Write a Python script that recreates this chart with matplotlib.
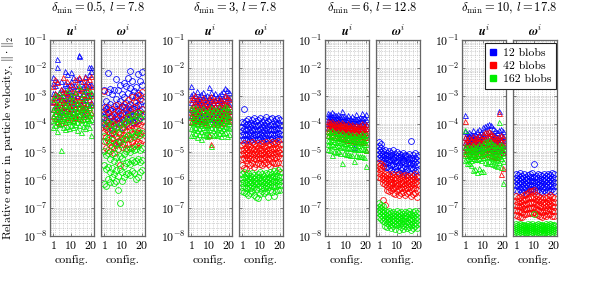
import numpy as np
import matplotlib
matplotlib.use('Agg')
import matplotlib.pyplot as plt
from matplotlib.lines import Line2D
from matplotlib.ticker import LogLocator, NullFormatter, FixedLocator

plt.rcParams['font.family'] = 'serif'
plt.rcParams['font.serif'] = ['cmr10', 'DejaVu Serif']
plt.rcParams['mathtext.fontset'] = 'cm'
plt.rcParams['axes.formatter.use_mathtext'] = True

# ── data: -100*log10(error), 20 configs x 5 particles ──
configs = np.arange(1, 21)
deltas = ['0.5', '3', '6', '10']
lengths = ['7.8', '7.8', '12.8', '17.8']
blob_labels = ['12 blobs', '42 blobs', '162 blobs']
colors = ['#0000ff', '#ff0000', '#00ee00']

# delta_min = 0.5
u_d05_12 = """232 255 290 318 345 262 288 305 331 360 168 195 246 297 338 285 301 322 349 371
248 276 309 334 352 270 296 312 340 365 212 254 287 320 350 221 262 290 315 342
256 281 308 337 359 213 247 279 303 331 232 266 295 322 348 261 284 310 336 372
239 271 298 325 355 152 158 235 288 330 246 272 301 329 346 263 289 314 338 364
227 256 283 311 341 248 279 300 327 358 195 220 262 296 333 198 210 257 291 320"""
u_d05_42 = """265 302 323 345 372 238 288 318 347 379 250 296 330 352 388 301 322 341 366 395
275 309 337 358 384 233 281 316 340 371 286 311 333 355 392 248 293 322 349 376
270 305 331 353 381 256 298 319 344 368 282 307 329 357 386 241 286 315 342 374
262 300 327 351 379 233 274 312 339 365 277 303 326 348 383 246 292 320 346 371
231 268 305 334 362 259 296 324 350 377 240 278 309 338 369 229 263 298 329 357"""
u_d05_162 = """312 348 369 386 412 296 339 362 381 405 325 351 374 392 425 288 336 358 379 401
318 354 377 398 492 301 343 366 384 410 327 356 372 389 418 279 331 360 382 406
309 346 368 391 414 295 337 363 385 403 316 352 371 388 409 284 334 357 380 399
322 349 373 394 421 265 328 355 377 402 306 344 365 387 428 291 338 362 383 407
314 347 370 392 415 275 330 356 378 398 299 341 364 386 411 287 333 359 381 438"""
w_d05_12 = """280 340 352 375 398 318 345 366 384 410 218 286 338 362 390 275 329 351 377 402
293 346 370 389 431 279 335 357 381 406 240 310 348 372 395 277 327 355 378 464
262 318 343 369 392 292 335 361 383 412 255 302 341 366 388 266 324 349 374 401
236 290 337 360 386 209 270 328 355 380 248 298 342 367 394 281 319 346 371 398
269 305 336 364 390 222 288 332 358 385 245 296 329 353 379 214 262 318 345 372"""
w_d05_42 = """281 365 402 430 462 338 389 418 447 485 357 398 425 456 493 372 401 433 465 497
346 391 421 449 480 365 402 437 468 502 331 382 414 443 475 352 395 428 459 491
368 405 436 466 548 341 387 419 450 482 328 378 411 441 473 360 397 426 455 487
315 372 408 438 470 345 390 422 452 484 302 364 403 434 466 338 383 416 447 479
320 371 407 439 472 297 356 398 431 463 309 362 401 433 468 287 348 389 425 458"""
w_d05_162 = """380 443 497 545 614 405 462 512 561 620 392 451 503 552 598 418 476 526 570 607
399 458 508 556 590 425 484 531 578 612 410 467 519 566 605 433 489 540 585 637
402 461 513 560 681 415 472 522 571 603 396 455 507 549 588 388 446 498 541 579
376 438 491 535 574 391 449 500 543 582 368 429 484 528 567 384 442 494 537 576
373 435 488 531 598 362 426 479 524 590 379 440 492 536 571 366 431 485 529 564"""

# delta_min = 3
u_d3_12 = """265 298 322 345 368 289 312 333 354 376 296 318 339 361 383 282 308 330 352 374
301 321 342 363 385 293 315 336 357 379 287 310 331 353 371 304 324 344 366 387
298 319 340 362 381 268 302 327 349 372 285 309 332 355 377 299 320 341 360 382
291 313 335 356 378 303 323 343 364 386 295 316 337 358 380 288 311 333 354 375
283 306 329 351 373 270 300 326 348 370 279 304 328 350 371 286 307 330 352 374"""
u_d3_42 = """312 338 357 376 392 305 331 352 371 389 296 329 350 369 386 318 342 360 379 396
309 335 354 373 391 321 344 362 381 398 302 330 351 370 388 315 339 358 377 394
324 346 364 383 400 308 334 353 372 438 300 327 349 368 472 316 340 359 378 395
311 336 355 374 393 322 345 363 382 399 306 332 352 371 389 314 338 357 376 392
320 343 361 380 397 298 326 348 367 386 303 330 350 369 387 310 335 354 373 390"""
u_d3_162 = """344 372 393 414 440 351 377 398 418 438 338 366 389 410 432 356 381 401 421 445
347 374 395 416 436 360 384 404 424 452 342 369 391 412 434 353 379 399 419 439
358 383 403 423 443 349 375 396 417 437 340 368 390 411 480 355 380 400 420 441
346 373 394 415 435 352 378 397 418 440 339 367 388 409 431 357 382 402 422 442
345 371 392 413 433 336 363 386 407 430 341 368 390 411 444 350 376 396 416 436"""
w_d3_12 = """392 410 425 441 458 348 398 418 437 455 389 405 422 439 457 381 401 419 436 452
395 412 428 444 461 386 404 421 438 454 378 399 417 434 451 391 408 424 440 456
384 402 420 437 453 380 400 418 435 450 393 411 427 443 459 387 405 422 439 455
376 397 415 433 449 390 407 423 440 457 383 402 419 436 452 379 399 417 434 451
388 406 423 441 460 382 401 418 435 450 377 398 416 433 448 385 403 420 437 454"""
w_d3_42 = """475 493 508 524 545 468 488 504 520 556 481 497 511 527 560 470 490 505 521 540
477 494 509 525 548 465 486 502 518 538 472 491 506 522 553 479 496 510 526 544
467 487 503 519 539 474 492 507 523 542 469 489 504 520 546 480 495 510 525 541
466 485 501 517 537 476 493 508 524 543 471 490 505 521 549 463 484 500 516 536
473 491 506 522 540 468 487 503 519 538 462 482 498 514 535 470 489 504 520 557"""
w_d3_162 = """578 595 610 625 640 572 590 606 621 643 583 598 612 627 648 576 593 608 623 652
585 600 614 629 645 574 591 607 622 638 581 597 611 626 655 588 602 616 631 662
577 594 609 624 666 573 590 605 620 650 579 596 610 625 641 586 601 615 630 646
575 592 607 622 639 580 596 611 626 660 571 589 604 619 637 577 593 608 623 644
569 587 603 618 658 574 591 606 621 640 566 584 600 616 635 570 588 603 618 636"""

# delta_min = 6
u_d6_12 = """362 372 383 395 410 365 375 386 398 414 358 370 382 394 408 366 377 388 400 416
368 379 390 403 420 363 374 386 399 417 370 381 392 405 423 355 372 387 401 419
373 383 394 407 425 375 385 396 409 428 369 382 395 410 430 377 388 399 412 432
372 384 397 411 431 380 391 403 418 482 365 381 398 414 434 378 390 402 416 436
374 387 400 415 433 362 380 397 413 435 376 389 401 417 438 364 382 399 414 437"""
u_d6_42 = """390 401 413 425 440 393 404 415 428 443 388 400 412 424 438 395 406 417 430 446
397 408 419 432 448 392 403 416 429 447 399 410 421 434 451 394 405 418 431 449
401 412 423 436 453 403 414 425 438 456 398 410 422 437 455 405 416 427 440 458
400 412 424 439 457 407 418 429 442 460 402 414 426 441 459 408 419 431 444 462
404 416 428 443 461 398 413 427 442 463 406 418 430 445 466 400 415 429 446 492"""
u_d6_162 = """425 441 456 472 490 428 444 459 475 494 422 438 454 470 512 430 446 461 477 497
433 448 463 479 500 427 443 458 476 498 435 450 465 481 503 429 445 460 478 541
437 452 467 483 505 438 453 468 485 508 432 448 464 482 506 440 455 470 487 510
436 451 466 484 509 442 457 472 489 532 434 450 466 486 511 444 459 474 491 514
439 454 469 488 513 431 449 465 487 515 441 456 472 490 518 435 452 470 492 550"""
w_d6_12 = """466 478 494 508 521 471 486 499 513 527 497 506 519 533 549 493 511 522 538 555
502 509 526 541 552 498 515 528 537 558 505 512 530 546 563 494 517 524 543 571
508 519 532 549 562 501 514 535 551 568 506 521 529 547 575 511 518 536 553 566
503 524 533 556 579 509 516 538 550 570 513 526 541 559 582 507 520 534 548 573
459 522 539 557 577 512 528 543 561 584 505 523 537 552 569 515 527 544 563 586"""
w_d6_42 = """538 549 561 574 588 542 556 565 579 592 551 584 596 609 672 579 590 603 614 688
582 593 607 621 635 577 598 610 624 641 585 595 606 619 637 580 592 611 627 645
588 600 613 626 649 583 597 609 622 640 578 594 616 631 652 590 602 614 629 646
586 599 612 625 643 581 596 617 633 655 589 604 615 628 648 584 601 610 624 642
592 605 618 632 658 587 599 613 627 650 579 596 611 630 647 591 603 616 635 661"""
w_d6_162 = """682 695 708 719 732 688 701 712 724 738 693 706 718 731 745 712 725 738 749 763
716 729 741 752 768 709 722 735 747 760 718 731 744 756 772 714 727 739 751 766
720 733 746 758 774 711 724 737 750 762 717 730 742 755 779 713 726 740 753 767
721 734 747 759 776 715 728 736 748 764 719 732 745 757 771 710 723 739 754 769
722 735 748 761 778 716 729 743 757 773 712 726 741 752 765 718 731 744 756 770"""

# delta_min = 10
u_d10_12 = """368 426 445 463 481 432 447 459 471 489 428 441 456 474 492 437 450 462 476 495
421 439 455 470 486 434 448 461 478 498 425 442 457 473 490 418 436 452 468 485
430 444 458 472 493 412 433 451 467 484 408 429 449 465 483 402 427 446 466 488
399 424 443 462 480 405 431 450 469 487 416 437 454 471 491 423 440 456 475 496
428 445 460 477 494 352 422 447 464 482 419 438 453 470 489 426 443 458 474 499"""
u_d10_42 = """388 448 466 483 502 452 468 480 494 511 447 463 477 491 508 455 470 484 498 516
444 460 475 490 506 450 466 481 496 513 446 462 478 493 510 441 458 473 488 505
449 464 479 495 512 436 455 471 487 503 430 452 469 486 504 428 449 467 484 507
425 446 464 482 501 433 451 470 489 509 439 457 474 492 514 445 461 476 494 517
451 467 482 497 519 362 443 465 485 506 440 459 475 493 578 448 465 480 499 558"""
u_d10_162 = """421 478 495 512 529 483 497 510 524 541 479 492 506 521 538 486 500 514 528 548
475 491 507 523 566 481 495 511 526 562 477 493 509 525 570 472 489 505 520 557
480 494 508 527 568 468 486 503 519 567 462 482 500 517 536 459 479 498 516 540
456 476 495 513 533 463 481 499 518 539 470 488 504 522 544 476 490 506 524 546
482 496 512 529 550 392 474 493 515 537 473 487 505 521 552 478 494 509 531 609"""
w_d10_12 = """578 592 605 619 634 583 596 610 623 640 576 590 603 616 631 586 598 612 626 643
580 594 607 621 637 588 601 614 628 645 582 595 608 622 638 579 591 604 618 633
575 589 602 617 632 542 588 606 620 635 584 597 611 624 641 577 593 606 619 636
581 595 609 623 639 587 600 613 627 644 579 592 605 620 634 585 598 611 625 642
578 591 604 618 637 583 596 609 622 640 576 590 603 617 633 580 594 608 621 638"""
w_d10_42 = """658 674 690 707 725 664 680 694 710 729 660 676 692 708 733 667 682 697 713 731
655 671 688 705 722 649 668 685 702 720 646 665 683 700 718 638 662 680 699 717
641 664 681 701 719 636 660 678 697 716 652 669 686 703 721 657 673 689 706 724
663 678 693 709 727 668 683 698 714 732 661 677 691 707 726 666 681 696 712 730
659 675 690 706 723 654 672 687 704 722 662 679 694 711 728 665 680 695 710 729"""
w_d10_162 = """758 765 772 779 786 761 768 774 781 788 757 764 771 778 785 762 769 776 783 790
759 766 773 780 787 763 770 777 784 791 756 763 770 777 784 760 767 774 781 789
758 765 772 780 787 722 766 773 781 788 761 768 775 782 790 757 764 771 779 786
762 769 776 783 791 759 766 773 780 788 763 770 777 785 792 758 765 772 779 786
760 767 774 782 789 756 763 771 778 785 761 768 775 782 790 759 766 773 780 787"""

panels = [
    (u_d05_12, u_d05_42, u_d05_162), (w_d05_12, w_d05_42, w_d05_162),
    (u_d3_12, u_d3_42, u_d3_162), (w_d3_12, w_d3_42, w_d3_162),
    (u_d6_12, u_d6_42, u_d6_162), (w_d6_12, w_d6_42, w_d6_162),
    (u_d10_12, u_d10_42, u_d10_162), (w_d10_12, w_d10_42, w_d10_162),
]


def parse(s):
    v = np.array(s.split(), float).reshape(len(configs), -1)
    return 10 ** (-v / 100)


W, H = 598, 281
fig = plt.figure(figsize=(W / 100, H / 100), dpi=100)

lefts = [50, 101, 188, 239, 325, 376, 462, 513]
pw, top, bot = 44, 40, 236
axes = []
for k, series in enumerate(panels):
    ax = fig.add_axes([lefts[k] / W, 1 - bot / H, pw / W, (bot - top) / H])
    axes.append(ax)
    is_u = k % 2 == 0
    for s, c in zip(series, colors):
        vals = parse(s)
        x = np.repeat(configs, vals.shape[1])
        ax.plot(x, vals.ravel(), ls='none', marker='^' if is_u else 'o',
                mfc='none', mec=c, ms=3.6 if is_u else 4.2, mew=0.55)
    ax.set_yscale('log')
    ax.set_ylim(1e-8, 1e-1)
    ax.set_xlim(-0.5, 21.5)
    ax.xaxis.set_major_locator(FixedLocator([1, 10, 20]))
    ax.xaxis.set_minor_locator(FixedLocator(np.arange(0, 22, 2)))
    ax.yaxis.set_major_locator(LogLocator(base=10, numticks=10))
    ax.yaxis.set_minor_locator(LogLocator(base=10, subs=np.arange(2, 10), numticks=20))
    ax.yaxis.set_minor_formatter(NullFormatter())
    ax.grid(True, which='both', ls=':', lw=0.5, color='#b0b0b0')
    ax.set_axisbelow(True)
    ax.tick_params(which='both', direction='in', top=True, right=True,
                   labelsize=8.5, pad=2)
    ax.tick_params(which='major', length=2.5, width=0.5, color='#555555')
    ax.tick_params(which='minor', length=0)
    if not is_u:
        ax.tick_params(labelleft=False)
    for sp in ax.spines.values():
        sp.set_color('#666666')
        sp.set_linewidth(0.9)
    ax.set_xlabel('config.', fontsize=8.5, labelpad=3)
    ax.set_title(r'$\mathbfit{u}^i$' if is_u else r'$\mathbfit{\omega}^i$',
                 fontsize=9, pad=3)

for g in range(4):
    cx = (lefts[2 * g] + lefts[2 * g + 1] + pw) / 2 / W
    fig.text(cx, 1 - 8 / H,
             r'$\delta_{\min} = %s$, $l = %s$' % (deltas[g], lengths[g]),
             ha='center', va='center', fontsize=9)

fig.text(8 / W, 1 - (top + bot) / 2 / H,
         r'Relative error in particle velocity, $\Vert\cdot\Vert_2$',
         rotation=90, ha='center', va='center', fontsize=8.5)

handles = [Line2D([], [], ls='none', marker='s', mfc=c, mec=c, ms=4.5) for c in colors]
leg = fig.legend(handles, blob_labels, loc='upper right',
                 bbox_to_anchor=(556 / W, 1 - 43 / H), fontsize=8.5,
                 frameon=True, fancybox=False, framealpha=1, edgecolor='#222222',
                 handlelength=0.6, handletextpad=0.5, borderpad=0.4,
                 labelspacing=0.25, borderaxespad=0)
leg.get_frame().set_linewidth(0.8)

fig.savefig('out.png', dpi=100)
